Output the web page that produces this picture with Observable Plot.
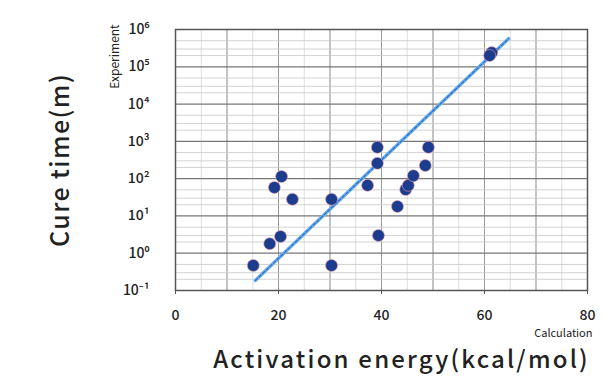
<!DOCTYPE html>
<html>
<head>
<meta charset="utf-8">
<script src="https://cdn.jsdelivr.net/npm/d3@7"></script>
<script src="https://cdn.jsdelivr.net/npm/@observablehq/plot@0.6"></script>
<style>
  html, body { margin: 0; padding: 0; background: #fff; }
  #chart svg { display: block; }
</style>
</head>
<body>
<div id="chart"></div>
<script>
// Activation energy (kcal/mol) vs. cure time (m)
const activationEnergy = [15.1, 18.3, 20.4, 19.2, 20.6, 22.7, 30.3, 30.3, 37.3, 39.2, 39.2, 39.4, 43.1, 44.7, 45.2, 46.2, 48.5, 49.1, 61.4, 61.0];
const cureTime = [0.47, 1.8, 2.8, 58, 114, 28, 28, 0.47, 66, 257, 690, 3.0, 18, 51, 66, 120, 225, 690, 2.4e5, 2.0e5];

// regression line endpoints
const fitEnergy = [15.5, 64.7];
const fitTime = [0.186, 5.7e5];

const xTicks = [0, 20, 40, 60, 80];
const yTicks = [0.1, 1, 10, 100, 1000, 1e4, 1e5, 1e6];
const yTickLabels = ["10⁻¹", "10⁰", "10¹", "10²", "10³", "10⁴", "10⁵", "10⁶"];

const xLabel = "Activation energy(kcal/mol)";
const yLabel = "Cure time(m)";
const yNote = "Experiment";
const xNote = "Calculation";

const points = activationEnergy.map((e, i) => ({energy: e, time: cureTime[i]}));
const fit = fitEnergy.map((e, i) => ({energy: e, time: fitTime[i]}));

const minorX = d3.range(0, 81, 5);
const majorX = d3.range(0, 81, 10);
const minorY = d3.range(-1, 6).flatMap(e => [2, 3, 5].map(m => m * Math.pow(10, e)));

const font = "'Noto Sans CJK JP', 'Noto Sans', sans-serif";

const chart = Plot.plot({
  width: 603,
  height: 381,
  marginLeft: 175,
  marginRight: 16,
  marginTop: 29,
  marginBottom: 91,
  style: {fontFamily: font, background: "#fff", color: "#222"},
  x: {domain: [0, 80]},
  y: {type: "log", domain: [0.1, 1e6]},
  marks: [
    Plot.gridX(minorX, {stroke: "#d0d0d0", strokeOpacity: 1, strokeWidth: 0.7}),
    Plot.gridX(majorX, {stroke: "#999", strokeOpacity: 1, strokeWidth: 1}),
    Plot.gridY(minorY, {stroke: "#c8c8c8", strokeOpacity: 1, strokeWidth: 0.8}),
    Plot.gridY(yTicks, {stroke: "#777", strokeOpacity: 1, strokeWidth: 1.2}),
    Plot.frame({stroke: "#555", strokeWidth: 1.5}),
    Plot.axisX({ticks: xTicks, tickSize: 4, tickPadding: 16, fontSize: 14, fontWeight: 500, label: null, stroke: "#555"}),
    Plot.axisY({ticks: yTicks, tickSize: 0, tickPadding: 26, fontSize: 14, fontWeight: 500, label: null,
      tickFormat: d => yTickLabels[yTicks.indexOf(d)]}),
    Plot.line(fit, {x: "energy", y: "time", stroke: "#6fb0ea", strokeWidth: 3.5}),
    Plot.line(fit, {x: "energy", y: "time", stroke: "#2a6fc9", strokeWidth: 1.2, strokeDasharray: "3,2"}),
    Plot.dot(points, {x: "energy", y: "time", r: 6, fill: "#1c3c8e", stroke: "#e8a0b0", strokeWidth: 0.6}),
    Plot.text([yLabel], {frameAnchor: "left", dx: -115, rotate: -90, fontSize: 25, fontWeight: 500, fill: "#222", textAnchor: "middle"}),
    Plot.text([yNote], {frameAnchor: "top-left", dx: -65, dy: 27, rotate: -90, fontSize: 12, fill: "#222", textAnchor: "middle"}),
    Plot.text([xNote], {frameAnchor: "bottom-right", dx: 5, dy: 46, fontSize: 11, fill: "#222", textAnchor: "end"}),
    Plot.text([xLabel], {frameAnchor: "bottom", dx: 20, dy: 77, fontSize: 24, fontWeight: 500, fill: "#222", textAnchor: "middle"})
  ]
});

// widen the two axis titles slightly, like the reference's wide Gothic font
d3.select(chart).selectAll("text").each(function() {
  const t = this.textContent;
  if (t === xLabel) this.setAttribute("letter-spacing", "2.2");
  if (t === yLabel) this.setAttribute("letter-spacing", "1.4");
});

document.getElementById("chart").appendChild(chart);
</script>
</body>
</html>
